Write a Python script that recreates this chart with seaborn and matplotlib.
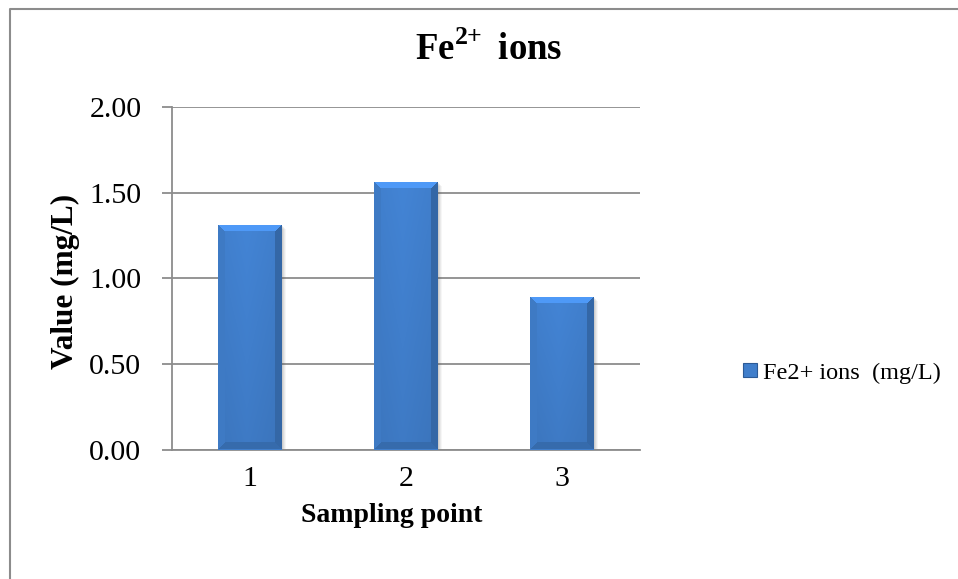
import numpy as np
import pandas as pd
import matplotlib
matplotlib.use("Agg")
import matplotlib.pyplot as plt
from matplotlib.patches import Patch
from matplotlib.lines import Line2D
import seaborn as sns

# Data
sampling_points = ["1", "2", "3"]
fe_values = [1.31, 1.56, 0.89]
series_name = "Fe2+ ions  (mg/L)"
y_ticks = [0.0, 0.5, 1.0, 1.5, 2.0]

sns.set_theme(style="white")
plt.rcParams["font.family"] = ["Liberation Serif", "DejaVu Serif"]
plt.rcParams["mathtext.fontset"] = "custom"
plt.rcParams["mathtext.rm"] = "Liberation Serif"
plt.rcParams["mathtext.bf"] = "Liberation Serif:bold"
plt.rcParams["text.color"] = "black"
plt.rcParams["axes.labelcolor"] = "black"
plt.rcParams["xtick.color"] = "black"
plt.rcParams["ytick.color"] = "black"

DPI = 100
W_PX, H_PX = 958, 579
fig = plt.figure(figsize=(W_PX / DPI, H_PX / DPI), dpi=DPI)
fig.patch.set_facecolor("white")
ax = fig.add_axes([172 / W_PX, 1 - 449.5 / H_PX, (640 - 172) / W_PX, (449.5 - 107) / H_PX])

df = pd.DataFrame({"point": sampling_points, "value": fe_values})
base = np.array([0x40, 0x7E, 0xCB]) / 255.0
sns.barplot(data=df, x="point", y="value", color=base, width=0.41,
            saturation=1, ax=ax, zorder=3, linewidth=0)

ax.set_ylim(0, 2.0)
ax.set_xlim(-0.5, 2.5)
ax.set_yticks(y_ticks)
ax.set_yticklabels([f"{v:.2f}" for v in y_ticks])
ax.yaxis.grid(True, color="#8c8c8c", linewidth=1.3, zorder=0)
ax.set_axisbelow(True)
for s in ["top", "right"]:
    ax.spines[s].set_visible(False)
for s in ["left", "bottom"]:
    ax.spines[s].set_color("#8c8c8c")
    ax.spines[s].set_linewidth(1.3)
ax.tick_params(axis="y", which="major", length=7, width=1.3, color="#8c8c8c",
               labelcolor="black", direction="out", labelsize=21.5, pad=15, left=True)
ax.tick_params(axis="x", length=0, labelsize=21.5, pad=12, labelcolor="black")
ax.set_xlabel("Sampling point", fontsize=20, fontweight="bold")
ax.set_ylabel("Value (mg/L)", fontsize=22.5, fontweight="bold")
# label positions in axes-fraction coordinates
ax.xaxis.set_label_coords((392 - 172) / (640 - 172), -(515 - 449.5) / (449.5 - 107))
ax.yaxis.set_label_coords(-(172 - 65) / (640 - 172), (449.5 - 281) / (449.5 - 107))
ax.xaxis.label.set_va("center")
ax.yaxis.label.set_va("center")

# Bevelled gradient fill for each bar
fig.canvas.draw()
to_px = ax.transData
for p in list(ax.patches):
    x0, y0 = p.get_x(), p.get_y()
    w, h = p.get_width(), p.get_height()
    (px0, py0) = to_px.transform((x0, y0))
    (px1, py1) = to_px.transform((x0 + w, y0 + h))
    W = max(int(round(px1 - px0)), 2)
    H = max(int(round(py1 - py0)), 2)
    ii, jj = np.mgrid[0:H, 0:W]
    dt, db = ii, H - 1 - ii
    dl, dr = jj, W - 1 - jj
    t = jj / (W - 1)
    shade = 1.0 + 0.05 * (1 - np.abs(t - 0.45) / 0.55)
    shade = shade - 0.08 * (ii / H)
    bev = 7
    dmin = np.minimum(np.minimum(dt, db), np.minimum(dl, dr))
    inb = dmin < bev
    shade = np.where(inb & (dt == dmin), 1.22, shade)
    shade = np.where(inb & (dl == dmin) & (dt != dmin), 0.97, shade)
    shade = np.where(inb & (dr == dmin) & (dt != dmin), 0.82, shade)
    shade = np.where(inb & (db == dmin) & (dl != dmin) & (dr != dmin), 0.85, shade)
    img = np.clip(base[None, None, :] * shade[..., None], 0, 1)
    # soft drop shadow to the right of the bar
    for k, a in [(4, 0.05), (3, 0.07), (2, 0.09), (1, 0.11)]:
        ax.add_patch(plt.Rectangle((x0 + k * w / W, y0), w, h - k * h / H,
                                   color="#555555", alpha=a, lw=0, zorder=2))
    im = ax.imshow(img, extent=(x0, x0 + w, y0, y0 + h), origin="upper",
                   aspect="auto", zorder=4, interpolation="nearest")
    im.set_clip_path(p)
ax.set_xlim(-0.5, 2.5)
ax.set_ylim(0, 2.0)

# Legend
handle = Patch(facecolor=base, edgecolor="#2c5a96", linewidth=0.8)
fig.legend([handle], [series_name], loc="center left",
           bbox_to_anchor=(731 / W_PX, 1 - 373 / H_PX), frameon=False,
           fontsize=17.5, handlelength=0.55, handleheight=0.55,
           handletextpad=0.25, borderpad=0)

# Title
fig.text(489 / W_PX, 1 - 50 / H_PX, r"Fe$^{\mathbf{2{+}}}\,$ ions", ha="center",
         va="center", fontsize=26.5, fontweight="bold")

# Chart area border
fig.add_artist(Line2D([9.5 / W_PX, 9.5 / W_PX, 1.0], [0.0, 1 - 8.5 / H_PX, 1 - 8.5 / H_PX],
                      transform=fig.transFigure, color="#8c8c8c", linewidth=1.5))

fig.savefig("out.png", dpi=DPI, facecolor="white")
